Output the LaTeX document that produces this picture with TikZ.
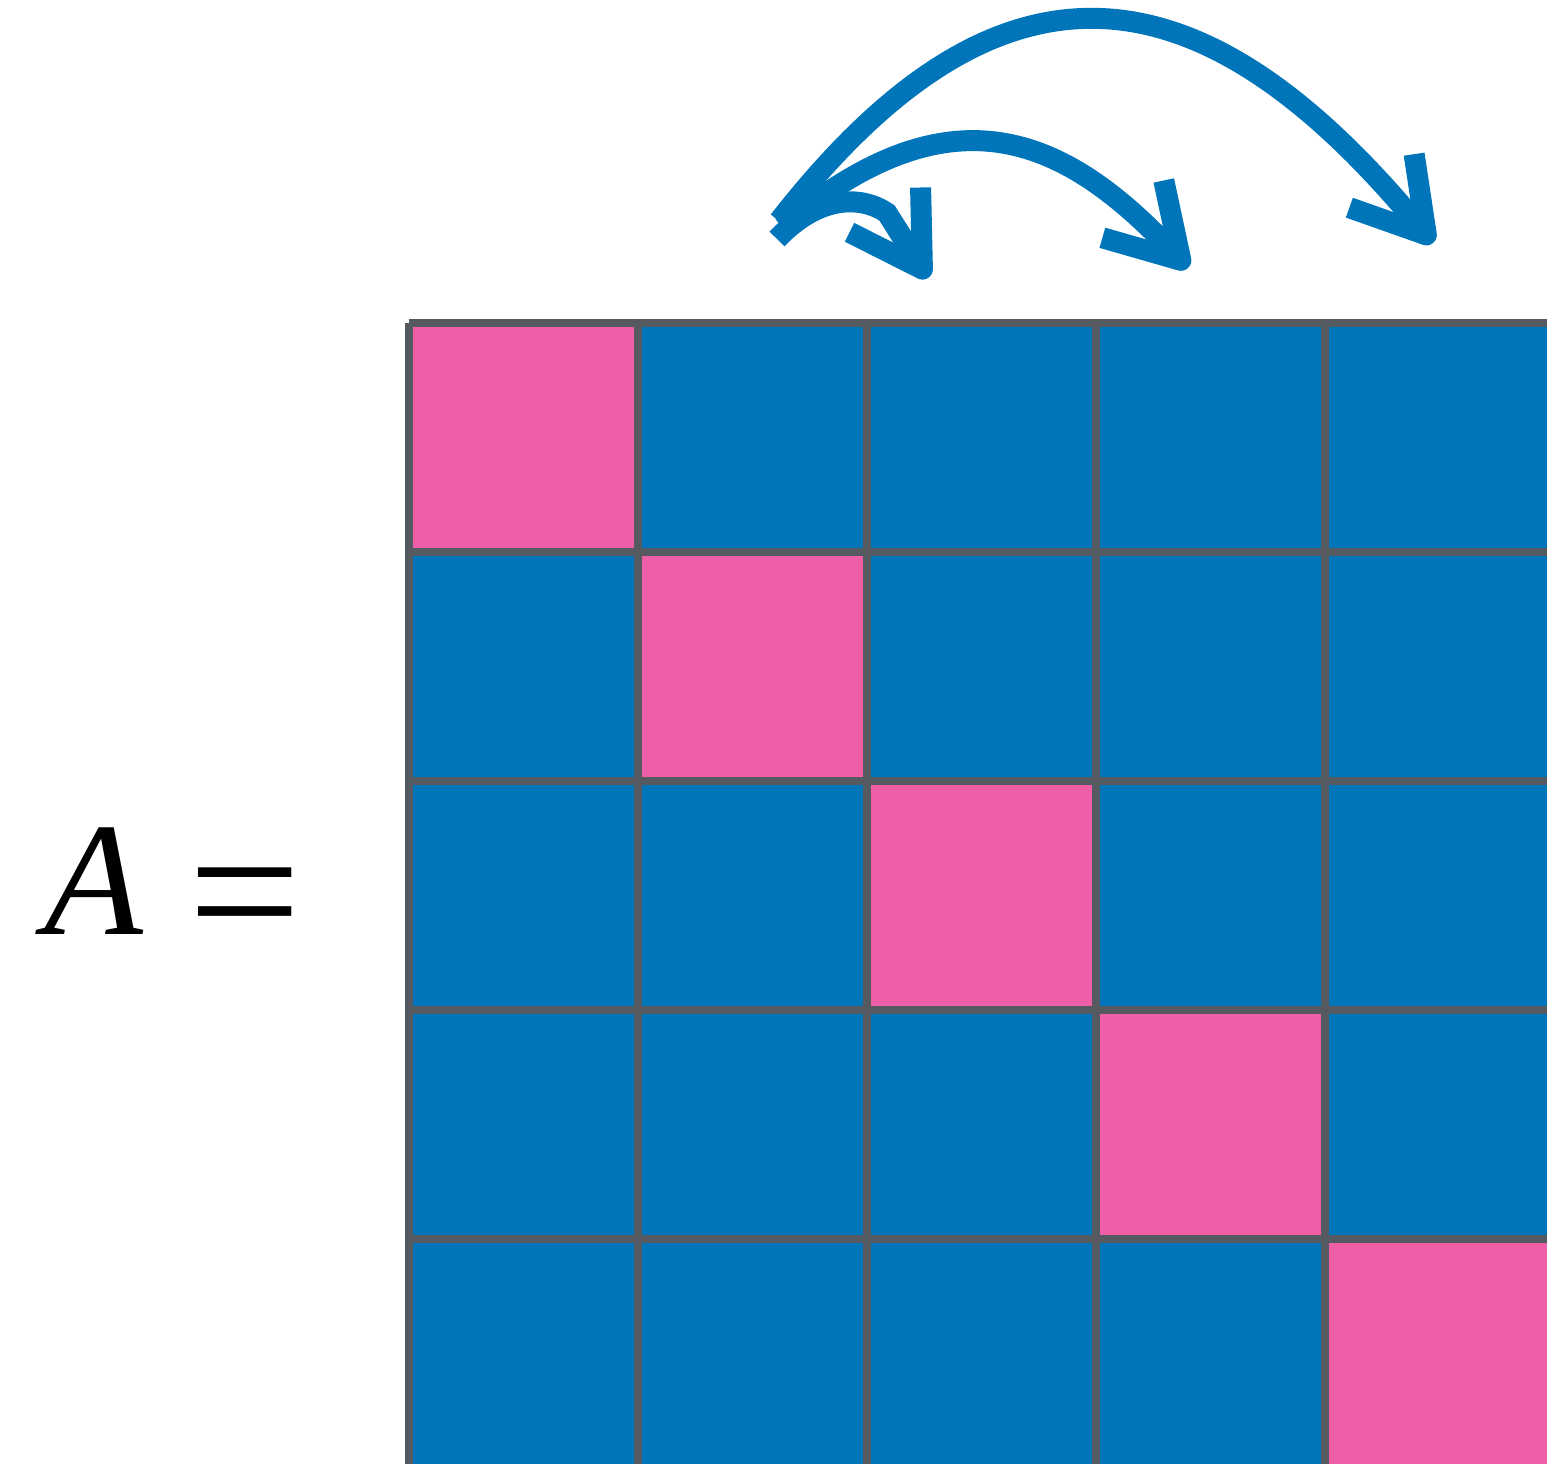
\documentclass[tikz,border=0pt]{standalone}
\usepackage{fontspec}
\setmainfont{Liberation Serif}
\usetikzlibrary{arrows.meta}
\definecolor{myblue}{HTML}{0075BA}
\definecolor{mypink}{HTML}{EE5FA7}
\definecolor{mygrey}{HTML}{555A60}

\begin{document}
\begin{tikzpicture}
	\tikzset{% styles for the cells, the grid and the swap arrows
		bluecell/.style={fill=myblue},
		pinkcell/.style={fill=mypink},
		gridline/.style={draw=mygrey,line width=0.08cm},
		swaparrow/.style={draw=myblue,line width=0.21cm,-{Straight Barb[length=0.7cm,width=0.84cm,line join=round]}},
		bigtext/.style={inner sep=0pt,anchor=base,font=\fontsize{46}{50}\selectfont}}
	\useasboundingbox (0,0) rectangle (15.47,14.64);
	\clip (0,0) rectangle (15.47,14.64);
	\node[bigtext] (lhs) at (0.94,5.29) {\itshape A};
	\node[bigtext] (eq) at (2.45,5.07) {\scalebox{1.24}[1.2]{=}};
	\begin{scope}[shift={(4.085,11.41)}]
		\fill[bluecell] (0,0) rectangle (11.46,-11.46);
		\foreach \i in {0,...,4}
			\fill[pinkcell] (\i*2.29,-\i*2.29) rectangle ++(2.29,-2.29);
		\draw[gridline,step=2.29] (0,0) grid (11.46,-11.46);
	\end{scope}
	\coordinate (srcA) at (7.77,12.25);
	\coordinate (kinkA) at (8.87,12.51);
	\coordinate (tipA) at (9.28,11.86);
	\coordinate (srcB) at (7.82,12.37);
	\coordinate (tipB) at (11.88,11.96);
	\coordinate (srcC) at (7.79,12.43);
	\coordinate (tipC) at (14.33,12.21);
	\draw[swaparrow] (srcA) .. controls (8.2,12.7) and (8.62,12.68) .. (kinkA) -- (tipA);
	\draw[swaparrow] (srcB) .. controls (9.49,13.77) and (10.62,13.31) .. (tipB);
	\draw[swaparrow] (srcC) .. controls (9.99,15.25) and (12.0,15.03) .. (tipC);
\end{tikzpicture}
\end{document}
